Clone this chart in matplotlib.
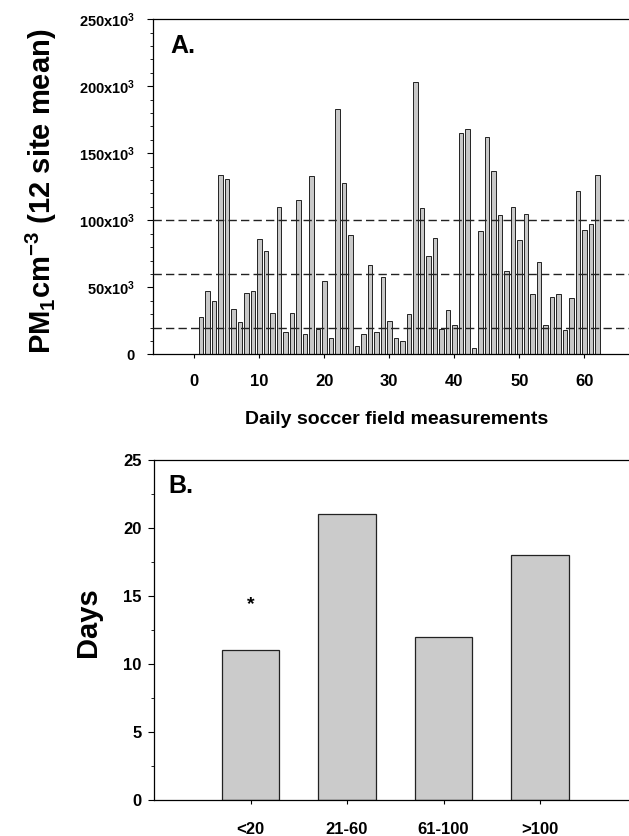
import matplotlib
matplotlib.use("Agg")
import matplotlib.pyplot as plt
from matplotlib.ticker import MultipleLocator, FuncFormatter

plt.rcParams['font.family'] = ['Liberation Sans', 'DejaVu Sans']
plt.rcParams['font.weight'] = 'bold'
plt.rcParams['mathtext.default'] = 'regular'

# Panel A data: daily PM1 counts (cm^-3), 12-site mean
days = list(range(1, 63))
pm1 = [28000, 47500, 40000, 134000, 131000, 34000, 24000, 46000, 47000, 86000,
       77000, 31000, 110000, 17000, 31000, 115000, 15500, 133000, 19000, 55000,
       12000, 183000, 128000, 89000, 6000, 15000, 67000, 17000, 58000, 25000,
       12000, 10000, 30000, 203000, 109000, 73000, 87000, 19000, 33000, 22000,
       165000, 168000, 5000, 92000, 162000, 137000, 104000, 62000, 110000, 85000,
       105000, 45000, 69000, 22000, 43000, 45000, 18000, 42000, 122000, 93000,
       97000, 134000]
thresholds = [20000, 60000, 100000]

# Panel B data
categories = ['<20', '21-60', '61-100', '>100']
day_counts = [11, 21, 12, 18]
star_label = '*'
star_y = 14.4

W, H = 629, 836
fig = plt.figure(figsize=(W / 100, H / 100), dpi=100)

# ---------- Panel A ----------
axA = fig.add_axes([153 / W, 1 - 354.3 / H, 496.6 / W, 335 / H])
axA.bar(days, pm1, width=0.7, color='#c8c8c8', edgecolor='#222222', linewidth=0.7, zorder=2)
for t in thresholds:
    axA.axhline(t, color='#222222', lw=1.0, linestyle=(0, (6, 3)), zorder=3)
axA.set_xlim(-6.35, 70.05)
axA.set_ylim(0, 250000)
axA.yaxis.set_major_locator(MultipleLocator(50000))
axA.yaxis.set_minor_locator(MultipleLocator(10000))
axA.set_xticks([0, 10, 20, 30, 40, 50, 60])
axA.yaxis.set_major_formatter(FuncFormatter(
    lambda v, p: '0' if v == 0 else f'{int(v / 1000)}x10$^3$'))
axA.tick_params(axis='y', which='major', direction='out', length=4, width=0.8, pad=9, labelsize=10.5)
axA.tick_params(axis='y', which='minor', direction='out', length=2.5, width=0.6)
axA.tick_params(axis='x', which='major', direction='out', length=3, width=0.8, pad=11, labelsize=12)
axA.spines['right'].set_visible(False)
for s in ['left', 'bottom', 'top']:
    axA.spines[s].set_linewidth(0.9)
axA.set_xlabel('Daily soccer field measurements', fontsize=14, fontweight='bold', va='center')
axA.xaxis.set_label_coords(0.491, -0.196)
axA.set_ylabel('PM$_1$cm$^{-3}$ (12 site mean)', fontsize=21, fontweight='bold', va='center')
axA.yaxis.set_label_coords(-0.225, 0.487)
axA.text(0.034, 0.955, 'A.', transform=axA.transAxes, fontsize=18, fontweight='bold',
         ha='left', va='top')

# ---------- Panel B ----------
axB = fig.add_axes([154 / W, 1 - 800 / H, 482.5 / W, 340 / H])
xpos = list(range(1, len(categories) + 1))
axB.bar(xpos, day_counts, width=0.6, color='#cbcbcb', edgecolor='#222222', linewidth=0.9, zorder=2)
axB.text(xpos[0], star_y, star_label, ha='center', va='center', fontsize=14, fontweight='bold')
axB.set_xlim(0, 5)
axB.set_ylim(0, 25)
axB.set_xticks(xpos)
axB.set_xticklabels(categories)
axB.yaxis.set_major_locator(MultipleLocator(5))
axB.yaxis.set_minor_locator(MultipleLocator(2.5))
axB.tick_params(axis='y', which='major', direction='out', length=4, width=0.8, pad=5, labelsize=12)
axB.tick_params(axis='y', which='minor', direction='out', length=2.5, width=0.6)
axB.tick_params(axis='x', which='major', direction='out', length=3, width=0.8, pad=13, labelsize=12)
axB.spines['right'].set_visible(False)
for s in ['left', 'bottom', 'top']:
    axB.spines[s].set_linewidth(0.9)
axB.set_ylabel('Days', fontsize=21, fontweight='bold', va='center')
axB.yaxis.set_label_coords(-0.137, 0.524)
axB.text(0.029, 0.96, 'B.', transform=axB.transAxes, fontsize=18, fontweight='bold',
         ha='left', va='top')

fig.savefig('out.png', dpi=100)
